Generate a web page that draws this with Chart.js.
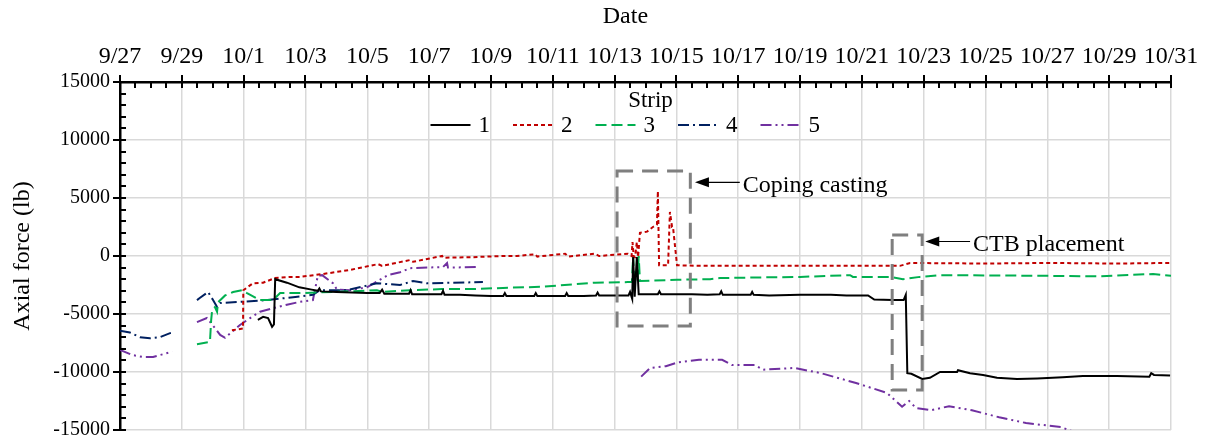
<!DOCTYPE html>
<html><head><meta charset="utf-8">
<script src="https://cdn.jsdelivr.net/npm/chart.js@4/dist/chart.umd.min.js"></script>
<style>html,body{margin:0;padding:0;background:#fff}#wrap{width:1205px;height:446px}</style>
</head><body><div id="wrap"><canvas id="c" width="1205" height="446"></canvas></div>
<script>
// x values are days after 9/27
const dateLabels = ["9/27","9/29","10/1","10/3","10/5","10/7","10/9","10/11","10/13","10/15","10/17","10/19","10/21","10/23","10/25","10/27","10/29","10/31"];
const stripNames = ["1","2","3","4","5"];

const s1Days  = [4.46,4.63,4.79,4.92,4.98,5.02,5.4,5.8,6.2,6.4,6.45,6.5,7.0,7.5,8.0,8.4,8.48,8.55,9.0,9.35,9.4,9.45,10.0,10.4,10.45,10.5,11.0,11.5,12.0,12.4,12.45,12.5,13.0,13.4,13.45,13.5,14.0,14.4,14.45,14.5,15.0,15.4,15.45,15.5,16.0,16.45,16.5,16.57,16.6,16.65,16.72,16.78,17.0,17.4,17.45,17.5,18.0,18.5,19.0,19.4,19.45,19.5,20.0,20.4,20.45,20.5,21.0,22.0,23.0,23.5,24.2,24.4,25.0,25.35,25.42,25.47,25.6,25.95,26.2,26.53,27.08,27.11,27.5,27.92,28.37,29.02,29.67,30.5,31.15,32.25,33.3,33.36,33.45,33.97];
const s1Force = [-5500,-5250,-5350,-6100,-5900,-2000,-2300,-2700,-2900,-3000,-2800,-3050,-3100,-3150,-3200,-3200,-2900,-3250,-3250,-3250,-2950,-3300,-3300,-3300,-3000,-3350,-3350,-3400,-3450,-3450,-3200,-3450,-3450,-3450,-3200,-3450,-3450,-3450,-3200,-3450,-3450,-3400,-3150,-3400,-3400,-3400,-3100,-3700,-100,-3500,-100,-3300,-3300,-3300,-3050,-3300,-3300,-3300,-3350,-3300,-3050,-3350,-3350,-3350,-3100,-3350,-3400,-3350,-3350,-3400,-3400,-3750,-3800,-3800,-3350,-10100,-10150,-10600,-10500,-10000,-10000,-9850,-10100,-10250,-10500,-10600,-10550,-10450,-10350,-10350,-10400,-10100,-10250,-10300];

const s2Days  = [3.62,3.98,3.99,4.30,4.63,5.01,5.5,5.82,6.57,7.44,8.35,8.48,9.38,9.48,10.42,10.45,11.42,12.39,12.84,13.43,13.5,14.4,14.5,15.37,15.5,16.43,16.55,16.58,16.62,16.66,16.72,16.76,16.82,17.05,17.24,17.37,17.40,17.44,17.73,17.79,17.86,17.89,18.02,18.76,20.0,22.0,24.0,25.23,25.56,27.92,30.09,32.25,33.97];
const s2Force = [-6400,-6250,-2950,-2350,-2300,-1900,-1800,-1800,-1550,-1200,-700,-850,-350,-500,0,-150,-100,0,0,150,-50,200,-50,200,0,200,0,1200,-100,-100,1200,-100,2000,2100,2500,2700,5600,-800,-800,3800,2500,2500,-800,-850,-850,-850,-850,-850,-600,-650,-600,-650,-600];

const s3Days  = [2.49,2.91,2.95,2.98,3.07,3.14,3.17,3.40,3.66,3.95,4.11,4.53,4.95,5.18,5.82,6.89,8.31,8.48,9.38,10.42,11.4,12.39,13.68,15.37,16.43,16.56,16.6,16.64,16.74,16.78,16.82,18.02,19.09,19.41,22.0,23.62,23.71,24.91,25.33,25.88,26.53,29.54,31.7,33.42,34.0];
const s3Force = [-7600,-7400,-5500,-4700,-4400,-4800,-4000,-3400,-3100,-2950,-3200,-3800,-3800,-3200,-3200,-3100,-2950,-3100,-2950,-2850,-2850,-2750,-2650,-2300,-2250,-2250,0,-2250,-2250,0,-2150,-2050,-2000,-1900,-1800,-1650,-1800,-1800,-2000,-1800,-1650,-1700,-1750,-1550,-1700];

const s4Days  = [0,0.32,0.65,0.97,1.29,1.62,1.71,2.0,2.49,2.59,2.85,3.01,3.14,3.24,3.88,4.76,5.6,6.24,6.47,7.34,8.31,9.06,9.48,9.93,11.74];
const s4Force = [-6450,-6600,-7000,-7100,-7000,-6650,-6600,null,-3800,-3600,-3100,-3800,-4400,-4050,-3950,-3800,-3550,-3350,-2950,-2950,-2350,-2500,-2150,-2350,-2250];

const s5Days  = [0,0.42,0.74,1.07,1.62,1.68,2.0,2.49,2.81,3.07,3.24,3.40,3.88,4.21,4.53,4.95,5.40,5.82,6.24,6.40,6.54,6.89,7.02,7.44,7.99,8.67,9.06,9.38,10.45,10.58,10.61,11.55,12.0,16.86,17.15,17.66,18.08,18.73,19.48,19.8,20.54,20.8,21.81,22.68,23.81,24.81,25.3,25.53,25.75,26.24,26.82,27.56,28.44,29.31,30.44,30.9];
const s5Force = [-8100,-8550,-8700,-8700,-8300,-8200,null,-5700,-5350,-6200,-6800,-7050,-5950,-5350,-4800,-4500,-4200,-3950,-3800,-1700,-1650,-2350,-2900,-2950,-2700,-1650,-1400,-1050,-950,-600,-1000,-950,null,-10400,-9650,-9500,-9150,-8950,-8950,-9400,-9400,-9800,-9650,-10100,-10950,-11800,-13000,-12500,-13100,-13300,-12950,-13300,-13900,-14400,-14750,-15200];

const seriesDays  = [s1Days,s2Days,s3Days,s4Days,s5Days];
const seriesForce = [s1Force,s2Force,s3Force,s4Force,s5Force];

// annotation boxes in data units: [xFrom, xTo, yTop, yBottom]
const noteBoxes = [[16.08,18.45,7330,-6030],[24.98,25.95,1810,-11550]];
// arrows: [tipX, tailX, y, label]
const noteArrows = [[18.6,20.05,6350,"Coping casting"],[26.05,27.5,1250,"CTB placement"]];

const colors = ['#000000','#c00000','#00b050','#002060','#7030a0'];
const dashes = [[],[4,3],[11,5],[11,4,2,4],[11,4,2,4,2,4]];
const FONT = '"Liberation Serif","Times New Roman",serif';

const datasets = seriesDays.map((d,i)=>({
  label: stripNames[i],
  data: d.map((x,j)=>({x:x,y:seriesForce[i][j]})),
  borderColor: colors[i], backgroundColor: colors[i],
  borderWidth: 2, borderDash: dashes[i], pointRadius: 0, tension: 0, spanGaps: false, fill:false
}));

const extras = {
  id:'extras',
  afterDraw(chart){
    const ctx = chart.ctx, xs = chart.scales.x, ys = chart.scales.y, a = chart.chartArea;
    ctx.save();
    ctx.strokeStyle='#000'; ctx.lineWidth=2;
    for(let v=0; v<=34.001; v+=0.5){
      const px = Math.round(xs.getPixelForValue(v));
      const major = Math.abs(v/2-Math.round(v/2))<1e-6;
      ctx.beginPath(); ctx.moveTo(px, major? a.top-7 : a.top); ctx.lineTo(px, a.top+6); ctx.stroke();
    }
    for(let v=-15000; v<=15000; v+=1000){
      const py = Math.round(ys.getPixelForValue(v));
      const major = v%5000===0;
      ctx.beginPath(); ctx.moveTo(major? a.left-7 : a.left, py); ctx.lineTo(a.left+6, py); ctx.stroke();
    }
    ctx.strokeStyle='#7f7f7f'; ctx.lineWidth=3; ctx.setLineDash([16,9]);
    noteBoxes.forEach(b=>{
      const x0=xs.getPixelForValue(b[0]), x1=xs.getPixelForValue(b[1]);
      const y0=ys.getPixelForValue(b[2]), y1=ys.getPixelForValue(b[3]);
      ctx.strokeRect(x0,y0,x1-x0,y1-y0);
    });
    ctx.setLineDash([]);
    noteArrows.forEach(n=>{
      const tx=xs.getPixelForValue(n[0]), lx=xs.getPixelForValue(n[1]), y=ys.getPixelForValue(n[2]);
      ctx.strokeStyle='#000'; ctx.lineWidth=1.2;
      ctx.beginPath(); ctx.moveTo(lx,y); ctx.lineTo(tx+12,y); ctx.stroke();
      ctx.fillStyle='#000'; ctx.beginPath(); ctx.moveTo(tx,y); ctx.lineTo(tx+14,y-5); ctx.lineTo(tx+14,y+5); ctx.closePath(); ctx.fill();
      ctx.font='24px '+FONT; ctx.textAlign='left'; ctx.textBaseline='middle';
      ctx.fillText(n[3], lx+3, y+3);
    });
    // axis title "Date"
    ctx.fillStyle='#000'; ctx.font='24px '+FONT; ctx.textAlign='center'; ctx.textBaseline='middle';
    ctx.fillText('Date', xs.getPixelForValue(16.35), 17);
    // legend
    const cx = (a.left+a.right)/2;
    ctx.font='23px '+FONT;
    ctx.fillText('Strip', cx+5, a.top+19);
    const step=82.5, start=cx-215;
    datasets.forEach((ds,i)=>{
      const x0=start+i*step, y=a.top+43;
      ctx.strokeStyle=ds.borderColor; ctx.lineWidth=2; ctx.setLineDash(ds.borderDash);
      ctx.beginPath(); ctx.moveTo(x0,y); ctx.lineTo(x0+40,y); ctx.stroke();
      ctx.setLineDash([]);
      ctx.fillStyle='#000'; ctx.textAlign='left'; ctx.fillText(ds.label, x0+48, y+1);
    });
    ctx.restore();
  }
};

new Chart(document.getElementById('c'), {
  type:'line',
  data:{datasets},
  plugins:[extras],
  options:{
    responsive:false, animation:false, devicePixelRatio:1,
    layout:{padding:{left:8,right:34,top:0,bottom:16}},
    plugins:{legend:{display:false}, tooltip:{enabled:false}},
    scales:{
      x:{type:'linear', position:'top', min:0, max:34,
        afterFit(s){ s.height = 82; s.paddingLeft=0; s.paddingRight=0; },
        ticks:{stepSize:2, autoSkip:false, maxRotation:0, padding:11, color:'#000', font:{family:FONT,size:24},
          callback:(v)=> dateLabels[Math.round(v/2)] },
        grid:{color:'#d9d9d9', lineWidth:1.5, drawTicks:false},
        border:{display:true, color:'#000', width:2.5},
        title:{display:false}
      },
      y:{min:-15000, max:15000,
        afterFit(s){ s.width = 112; s.paddingTop=0; s.paddingBottom=0; },
        ticks:{stepSize:5000, color:'#000', padding:10, font:{family:FONT,size:20}, callback:(v)=>String(v)},
        grid:{color:'#d9d9d9', lineWidth:1.5, drawTicks:false},
        border:{display:true, color:'#000', width:2.5},
        title:{display:true, text:'Axial force (lb)', color:'#000', font:{family:FONT,size:24}, padding:{top:0,bottom:4}}
      }
    }
  }
});
</script></body></html>
